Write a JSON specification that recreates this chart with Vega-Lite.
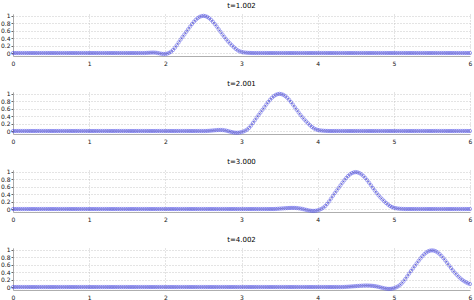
{
"$schema": "https://vega.github.io/schema/vega-lite/v6.json",
"padding": {"left": 0, "top": 1, "right": 2, "bottom": 0},
"spacing": 13,
"config": {
  "font": "DejaVu Sans",
  "view": {"stroke": null},
  "title": {"fontSize": 7, "fontWeight": "normal", "color": "#000", "offset": 4, "font": "DejaVu Sans"},
  "axis": {"labelFontSize": 6, "labelColor": "#111", "labelFont": "DejaVu Sans", "labelOverlap": false, "labelFlush": false, "labelBound": false, "domainColor": "#999", "domainWidth": 0.8, "tickColor": "#666", "tickSize": 2, "gridColor": "#bbb", "gridDash": [1, 2], "gridWidth": 0.8, "title": null}
},
"data": {"values": [
{"x":0,"a":0,"b":0,"c":0,"d":0},{"x":0.025,"a":0,"b":0,"c":0,"d":0},{"x":0.05,"a":0,"b":0,"c":0,"d":0},{"x":0.075,"a":0,"b":0,"c":0,"d":0},{"x":0.1,"a":0,"b":0,"c":0,"d":0},{"x":0.125,"a":0,"b":0,"c":0,"d":0},{"x":0.15,"a":0,"b":0,"c":0,"d":0},{"x":0.175,"a":0,"b":0,"c":0,"d":0},{"x":0.2,"a":0,"b":0,"c":0,"d":0},{"x":0.225,"a":0,"b":0,"c":0,"d":0},
{"x":0.25,"a":0,"b":0,"c":0,"d":0},{"x":0.275,"a":0,"b":0,"c":0,"d":0},{"x":0.3,"a":0,"b":0,"c":0,"d":0},{"x":0.325,"a":0,"b":0,"c":0,"d":0},{"x":0.35,"a":0,"b":0,"c":0,"d":0},{"x":0.375,"a":0,"b":0,"c":0,"d":0},{"x":0.4,"a":0,"b":0,"c":0,"d":0},{"x":0.425,"a":0,"b":0,"c":0,"d":0},{"x":0.45,"a":0,"b":0,"c":0,"d":0},{"x":0.475,"a":0,"b":0,"c":0,"d":0},
{"x":0.5,"a":0,"b":0,"c":0,"d":0},{"x":0.525,"a":0,"b":0,"c":0,"d":0},{"x":0.55,"a":0,"b":0,"c":0,"d":0},{"x":0.575,"a":0,"b":0,"c":0,"d":0},{"x":0.6,"a":0,"b":0,"c":0,"d":0},{"x":0.625,"a":0,"b":0,"c":0,"d":0},{"x":0.65,"a":0,"b":0,"c":0,"d":0},{"x":0.675,"a":0,"b":0,"c":0,"d":0},{"x":0.7,"a":0,"b":0,"c":0,"d":0},{"x":0.725,"a":0,"b":0,"c":0,"d":0},
{"x":0.75,"a":0,"b":0,"c":0,"d":0},{"x":0.775,"a":0,"b":0,"c":0,"d":0},{"x":0.8,"a":0,"b":0,"c":0,"d":0},{"x":0.825,"a":0,"b":0,"c":0,"d":0},{"x":0.85,"a":0,"b":0,"c":0,"d":0},{"x":0.875,"a":0,"b":0,"c":0,"d":0},{"x":0.9,"a":0,"b":0,"c":0,"d":0},{"x":0.925,"a":0,"b":0,"c":0,"d":0},{"x":0.95,"a":0,"b":0,"c":0,"d":0},{"x":0.975,"a":0,"b":0,"c":0,"d":0},
{"x":1,"a":0,"b":0,"c":0,"d":0},{"x":1.025,"a":0,"b":0,"c":0,"d":0},{"x":1.05,"a":0,"b":0,"c":0,"d":0},{"x":1.075,"a":0,"b":0,"c":0,"d":0},{"x":1.1,"a":0,"b":0,"c":0,"d":0},{"x":1.125,"a":0,"b":0,"c":0,"d":0},{"x":1.15,"a":0,"b":0,"c":0,"d":0},{"x":1.175,"a":0,"b":0,"c":0,"d":0},{"x":1.2,"a":0,"b":0,"c":0,"d":0},{"x":1.225,"a":0,"b":0,"c":0,"d":0},
{"x":1.25,"a":0,"b":0,"c":0,"d":0},{"x":1.275,"a":0,"b":0,"c":0,"d":0},{"x":1.3,"a":0,"b":0,"c":0,"d":0},{"x":1.325,"a":0,"b":0,"c":0,"d":0},{"x":1.35,"a":0,"b":0,"c":0,"d":0},{"x":1.375,"a":0,"b":0,"c":0,"d":0},{"x":1.4,"a":0,"b":0,"c":0,"d":0},{"x":1.425,"a":0,"b":0,"c":0,"d":0},{"x":1.45,"a":0,"b":0,"c":0,"d":0},{"x":1.475,"a":0,"b":0,"c":0,"d":0},
{"x":1.5,"a":0,"b":0,"c":0,"d":0},{"x":1.525,"a":0,"b":0,"c":0,"d":0},{"x":1.55,"a":0,"b":0,"c":0,"d":0},{"x":1.575,"a":0,"b":0,"c":0,"d":0},{"x":1.6,"a":0,"b":0,"c":0,"d":0},{"x":1.625,"a":0,"b":0,"c":0,"d":0},{"x":1.65,"a":0,"b":0,"c":0,"d":0},{"x":1.675,"a":0,"b":0,"c":0,"d":0},{"x":1.7,"a":0,"b":0,"c":0,"d":0},{"x":1.725,"a":0,"b":0,"c":0,"d":0},
{"x":1.75,"a":0.003,"b":0,"c":0,"d":0},{"x":1.775,"a":0.006,"b":0,"c":0,"d":0},{"x":1.8,"a":0.009,"b":0,"c":0,"d":0},{"x":1.825,"a":0.012,"b":0,"c":0,"d":0},{"x":1.85,"a":0.012,"b":0,"c":0,"d":0},{"x":1.875,"a":0.008,"b":0,"c":0,"d":0},{"x":1.9,"a":0,"b":0,"c":0,"d":0},{"x":1.925,"a":-0.01,"b":0,"c":0,"d":0},{"x":1.95,"a":-0.02,"b":0,"c":0,"d":0},{"x":1.975,"a":-0.026,"b":0,"c":0,"d":0},
{"x":2,"a":-0.026,"b":0,"c":0,"d":0},{"x":2.025,"a":-0.016,"b":0,"c":0,"d":0},{"x":2.05,"a":0.005,"b":0,"c":0,"d":0},{"x":2.075,"a":0.035,"b":0,"c":0,"d":0},{"x":2.1,"a":0.08,"b":0,"c":0,"d":0},{"x":2.125,"a":0.14,"b":0,"c":0,"d":0},{"x":2.15,"a":0.21,"b":0,"c":0,"d":0},{"x":2.175,"a":0.285,"b":0,"c":0,"d":0},{"x":2.2,"a":0.36,"b":0,"c":0,"d":0},{"x":2.225,"a":0.432,"b":0,"c":0,"d":0},
{"x":2.25,"a":0.499,"b":0,"c":0,"d":0},{"x":2.275,"a":0.57,"b":0,"c":0,"d":0},{"x":2.3,"a":0.641,"b":0,"c":0,"d":0},{"x":2.325,"a":0.712,"b":0,"c":0,"d":0},{"x":2.35,"a":0.779,"b":0,"c":0,"d":0},{"x":2.375,"a":0.841,"b":0,"c":0,"d":0},{"x":2.4,"a":0.895,"b":0,"c":0,"d":0},{"x":2.425,"a":0.939,"b":0,"c":0,"d":0},{"x":2.45,"a":0.973,"b":0,"c":0,"d":0},{"x":2.475,"a":0.993,"b":0,"c":0,"d":0},
{"x":2.5,"a":1,"b":0,"c":0,"d":0},{"x":2.525,"a":0.993,"b":0,"c":0,"d":0},{"x":2.55,"a":0.973,"b":0.003,"c":0,"d":0},{"x":2.575,"a":0.939,"b":0.006,"c":0,"d":0},{"x":2.6,"a":0.895,"b":0.01,"c":0,"d":0},{"x":2.625,"a":0.841,"b":0.015,"c":0,"d":0},{"x":2.65,"a":0.779,"b":0.02,"c":0,"d":0},{"x":2.675,"a":0.712,"b":0.024,"c":0,"d":0},{"x":2.7,"a":0.641,"b":0.027,"c":0,"d":0},{"x":2.725,"a":0.57,"b":0.028,"c":0,"d":0},
{"x":2.75,"a":0.499,"b":0.026,"c":0,"d":0},{"x":2.775,"a":0.432,"b":0.02,"c":0,"d":0},{"x":2.8,"a":0.368,"b":0.01,"c":0,"d":0},{"x":2.825,"a":0.309,"b":-0.003,"c":0,"d":0},{"x":2.85,"a":0.256,"b":-0.017,"c":0,"d":0},{"x":2.875,"a":0.205,"b":-0.03,"c":0,"d":0},{"x":2.9,"a":0.155,"b":-0.04,"c":0,"d":0},{"x":2.925,"a":0.11,"b":-0.046,"c":0,"d":0},{"x":2.95,"a":0.073,"b":-0.046,"c":0,"d":0},{"x":2.975,"a":0.047,"b":-0.04,"c":0,"d":0},
{"x":3,"a":0.03,"b":-0.028,"c":0,"d":0},{"x":3.025,"a":0.019,"b":-0.012,"c":0,"d":0},{"x":3.05,"a":0.012,"b":0.01,"c":0,"d":0},{"x":3.075,"a":0.007,"b":0.04,"c":0,"d":0},{"x":3.1,"a":0.004,"b":0.085,"c":0,"d":0},{"x":3.125,"a":0.002,"b":0.145,"c":0,"d":0},{"x":3.15,"a":0,"b":0.215,"c":0,"d":0},{"x":3.175,"a":0,"b":0.288,"c":0,"d":0},{"x":3.2,"a":0,"b":0.362,"c":0,"d":0},{"x":3.225,"a":0,"b":0.432,"c":0,"d":0},
{"x":3.25,"a":0,"b":0.499,"c":0,"d":0},{"x":3.275,"a":0,"b":0.57,"c":0,"d":0},{"x":3.3,"a":0,"b":0.641,"c":0,"d":0},{"x":3.325,"a":0,"b":0.712,"c":0,"d":0},{"x":3.35,"a":0,"b":0.779,"c":0,"d":0},{"x":3.375,"a":0,"b":0.841,"c":0,"d":0},{"x":3.4,"a":0,"b":0.895,"c":0,"d":0},{"x":3.425,"a":0,"b":0.939,"c":0,"d":0},{"x":3.45,"a":0,"b":0.973,"c":0.003,"d":0},{"x":3.475,"a":0,"b":0.993,"c":0.006,"d":0},
{"x":3.5,"a":0,"b":1,"c":0.01,"d":0},{"x":3.525,"a":0,"b":0.993,"c":0.014,"d":0},{"x":3.55,"a":0,"b":0.973,"c":0.018,"d":0},{"x":3.575,"a":0,"b":0.939,"c":0.022,"d":0},{"x":3.6,"a":0,"b":0.895,"c":0.025,"d":0},{"x":3.625,"a":0,"b":0.841,"c":0.028,"d":0},{"x":3.65,"a":0,"b":0.779,"c":0.03,"d":0},{"x":3.675,"a":0,"b":0.712,"c":0.03,"d":0},{"x":3.7,"a":0,"b":0.641,"c":0.029,"d":0},{"x":3.725,"a":0,"b":0.57,"c":0.026,"d":0},
{"x":3.75,"a":0,"b":0.499,"c":0.02,"d":0},{"x":3.775,"a":0,"b":0.432,"c":0.012,"d":0},{"x":3.8,"a":0,"b":0.368,"c":0.002,"d":0},{"x":3.825,"a":0,"b":0.309,"c":-0.01,"d":0},{"x":3.85,"a":0,"b":0.256,"c":-0.022,"d":0},{"x":3.875,"a":0,"b":0.205,"c":-0.034,"d":0},{"x":3.9,"a":0,"b":0.155,"c":-0.043,"d":0},{"x":3.925,"a":0,"b":0.11,"c":-0.049,"d":0},{"x":3.95,"a":0,"b":0.073,"c":-0.05,"d":0},{"x":3.975,"a":0,"b":0.047,"c":-0.046,"d":0},
{"x":4,"a":0,"b":0.03,"c":-0.036,"d":0},{"x":4.025,"a":0,"b":0.019,"c":-0.018,"d":0},{"x":4.05,"a":0,"b":0.012,"c":0.005,"d":0},{"x":4.075,"a":0,"b":0.007,"c":0.037,"d":0},{"x":4.1,"a":0,"b":0.004,"c":0.08,"d":0},{"x":4.125,"a":0,"b":0.002,"c":0.138,"d":0},{"x":4.15,"a":0,"b":0,"c":0.205,"d":0},{"x":4.175,"a":0,"b":0,"c":0.28,"d":0},{"x":4.2,"a":0,"b":0,"c":0.355,"d":0},{"x":4.225,"a":0,"b":0,"c":0.428,"d":0},
{"x":4.25,"a":0,"b":0,"c":0.497,"d":0},{"x":4.275,"a":0,"b":0,"c":0.567,"d":0},{"x":4.3,"a":0,"b":0,"c":0.638,"d":0},{"x":4.325,"a":0,"b":0,"c":0.708,"d":0},{"x":4.35,"a":0,"b":0,"c":0.775,"d":0.003},{"x":4.375,"a":0,"b":0,"c":0.836,"d":0.005},{"x":4.4,"a":0,"b":0,"c":0.89,"d":0.008},{"x":4.425,"a":0,"b":0,"c":0.933,"d":0.012},{"x":4.45,"a":0,"b":0,"c":0.966,"d":0.016},{"x":4.475,"a":0,"b":0,"c":0.986,"d":0.02},
{"x":4.5,"a":0,"b":0,"c":0.993,"d":0.024},{"x":4.525,"a":0,"b":0,"c":0.986,"d":0.028},{"x":4.55,"a":0,"b":0,"c":0.966,"d":0.032},{"x":4.575,"a":0,"b":0,"c":0.933,"d":0.035},{"x":4.6,"a":0,"b":0,"c":0.89,"d":0.038},{"x":4.625,"a":0,"b":0,"c":0.836,"d":0.04},{"x":4.65,"a":0,"b":0,"c":0.775,"d":0.04},{"x":4.675,"a":0,"b":0,"c":0.708,"d":0.039},{"x":4.7,"a":0,"b":0,"c":0.638,"d":0.036},{"x":4.725,"a":0,"b":0,"c":0.567,"d":0.031},
{"x":4.75,"a":0,"b":0,"c":0.497,"d":0.024},{"x":4.775,"a":0,"b":0,"c":0.43,"d":0.015},{"x":4.8,"a":0,"b":0,"c":0.368,"d":0.004},{"x":4.825,"a":0,"b":0,"c":0.31,"d":-0.009},{"x":4.85,"a":0,"b":0,"c":0.258,"d":-0.023},{"x":4.875,"a":0,"b":0,"c":0.208,"d":-0.035},{"x":4.9,"a":0,"b":0,"c":0.16,"d":-0.044},{"x":4.925,"a":0,"b":0,"c":0.117,"d":-0.05},{"x":4.95,"a":0,"b":0,"c":0.08,"d":-0.05},{"x":4.975,"a":0,"b":0,"c":0.053,"d":-0.044},
{"x":5,"a":0,"b":0,"c":0.035,"d":-0.032},{"x":5.025,"a":0,"b":0,"c":0.022,"d":-0.013},{"x":5.05,"a":0,"b":0,"c":0.014,"d":0.012},{"x":5.075,"a":0,"b":0,"c":0.008,"d":0.045},{"x":5.1,"a":0,"b":0,"c":0.005,"d":0.09},{"x":5.125,"a":0,"b":0,"c":0.002,"d":0.148},{"x":5.15,"a":0,"b":0,"c":0,"d":0.215},{"x":5.175,"a":0,"b":0,"c":0,"d":0.288},{"x":5.2,"a":0,"b":0,"c":0,"d":0.36},{"x":5.225,"a":0,"b":0,"c":0,"d":0.43},
{"x":5.25,"a":0,"b":0,"c":0,"d":0.497},{"x":5.275,"a":0,"b":0,"c":0,"d":0.566},{"x":5.3,"a":0,"b":0,"c":0,"d":0.636},{"x":5.325,"a":0,"b":0,"c":0,"d":0.705},{"x":5.35,"a":0,"b":0,"c":0,"d":0.771},{"x":5.375,"a":0,"b":0,"c":0,"d":0.831},{"x":5.4,"a":0,"b":0,"c":0,"d":0.884},{"x":5.425,"a":0,"b":0,"c":0,"d":0.927},{"x":5.45,"a":0,"b":0,"c":0,"d":0.96},{"x":5.475,"a":0,"b":0,"c":0,"d":0.979},
{"x":5.5,"a":0,"b":0,"c":0,"d":0.986},{"x":5.525,"a":0,"b":0,"c":0,"d":0.98},{"x":5.55,"a":0,"b":0,"c":0,"d":0.962},{"x":5.575,"a":0,"b":0,"c":0,"d":0.931},{"x":5.6,"a":0,"b":0,"c":0,"d":0.889},{"x":5.625,"a":0,"b":0,"c":0,"d":0.838},{"x":5.65,"a":0,"b":0,"c":0,"d":0.779},{"x":5.675,"a":0,"b":0,"c":0,"d":0.715},{"x":5.7,"a":0,"b":0,"c":0,"d":0.648},{"x":5.725,"a":0,"b":0,"c":0,"d":0.58},
{"x":5.75,"a":0,"b":0,"c":0,"d":0.513},{"x":5.775,"a":0,"b":0,"c":0,"d":0.448},{"x":5.8,"a":0,"b":0,"c":0,"d":0.387},{"x":5.825,"a":0,"b":0,"c":0,"d":0.33},{"x":5.85,"a":0,"b":0,"c":0,"d":0.278},{"x":5.875,"a":0,"b":0,"c":0,"d":0.231},{"x":5.9,"a":0,"b":0,"c":0,"d":0.19},{"x":5.925,"a":0,"b":0,"c":0,"d":0.155},{"x":5.95,"a":0,"b":0,"c":0,"d":0.125},{"x":5.975,"a":0,"b":0,"c":0,"d":0.1},
{"x":6,"a":0,"b":0,"c":0,"d":0.08}
]},
"vconcat": [
 {"title": "t=1.002", "width": 457, "height": 42,
  "encoding": {"x": {"field": "x", "type": "quantitative", "scale": {"domain": [0, 6], "nice": false}, "axis": {"values": [0,1,2,3,4,5,6], "format": "~g", "ticks": false, "labelPadding": 4}}, "y": {"field": "a", "type": "quantitative", "scale": {"domain": [-0.08, 1.05], "nice": false, "zero": false}, "axis": {"values": [0,0.2,0.4,0.6,0.8,1], "format": "~g", "labelPadding": 1}}},
  "layer": [
   {"mark": {"type": "line", "color": "#1a1a80", "strokeWidth": 0.6, "opacity": 0.7}, "encoding": {}},
   {"mark": {"type": "point", "shape": "circle", "filled": false, "color": "#4a4ae6", "size": 11, "strokeWidth": 0.7}, "encoding": {}}
 ]},
 {"title": "t=2.001", "width": 457, "height": 42,
  "encoding": {"x": {"field": "x", "type": "quantitative", "scale": {"domain": [0, 6], "nice": false}, "axis": {"values": [0,1,2,3,4,5,6], "format": "~g", "ticks": false, "labelPadding": 4}}, "y": {"field": "b", "type": "quantitative", "scale": {"domain": [-0.08, 1.05], "nice": false, "zero": false}, "axis": {"values": [0,0.2,0.4,0.6,0.8,1], "format": "~g", "labelPadding": 1}}},
  "layer": [
   {"mark": {"type": "line", "color": "#1a1a80", "strokeWidth": 0.6, "opacity": 0.7}, "encoding": {}},
   {"mark": {"type": "point", "shape": "circle", "filled": false, "color": "#4a4ae6", "size": 11, "strokeWidth": 0.7}, "encoding": {}}
 ]},
 {"title": "t=3.000", "width": 457, "height": 42,
  "encoding": {"x": {"field": "x", "type": "quantitative", "scale": {"domain": [0, 6], "nice": false}, "axis": {"values": [0,1,2,3,4,5,6], "format": "~g", "ticks": false, "labelPadding": 4}}, "y": {"field": "c", "type": "quantitative", "scale": {"domain": [-0.08, 1.05], "nice": false, "zero": false}, "axis": {"values": [0,0.2,0.4,0.6,0.8,1], "format": "~g", "labelPadding": 1}}},
  "layer": [
   {"mark": {"type": "line", "color": "#1a1a80", "strokeWidth": 0.6, "opacity": 0.7}, "encoding": {}},
   {"mark": {"type": "point", "shape": "circle", "filled": false, "color": "#4a4ae6", "size": 11, "strokeWidth": 0.7}, "encoding": {}}
 ]},
 {"title": "t=4.002", "width": 457, "height": 42,
  "encoding": {"x": {"field": "x", "type": "quantitative", "scale": {"domain": [0, 6], "nice": false}, "axis": {"values": [0,1,2,3,4,5,6], "format": "~g", "ticks": false, "labelPadding": 4}}, "y": {"field": "d", "type": "quantitative", "scale": {"domain": [-0.08, 1.05], "nice": false, "zero": false}, "axis": {"values": [0,0.2,0.4,0.6,0.8,1], "format": "~g", "labelPadding": 1}}},
  "layer": [
   {"mark": {"type": "line", "color": "#1a1a80", "strokeWidth": 0.6, "opacity": 0.7}, "encoding": {}},
   {"mark": {"type": "point", "shape": "circle", "filled": false, "color": "#4a4ae6", "size": 11, "strokeWidth": 0.7}, "encoding": {}}
 ]}
]
}
